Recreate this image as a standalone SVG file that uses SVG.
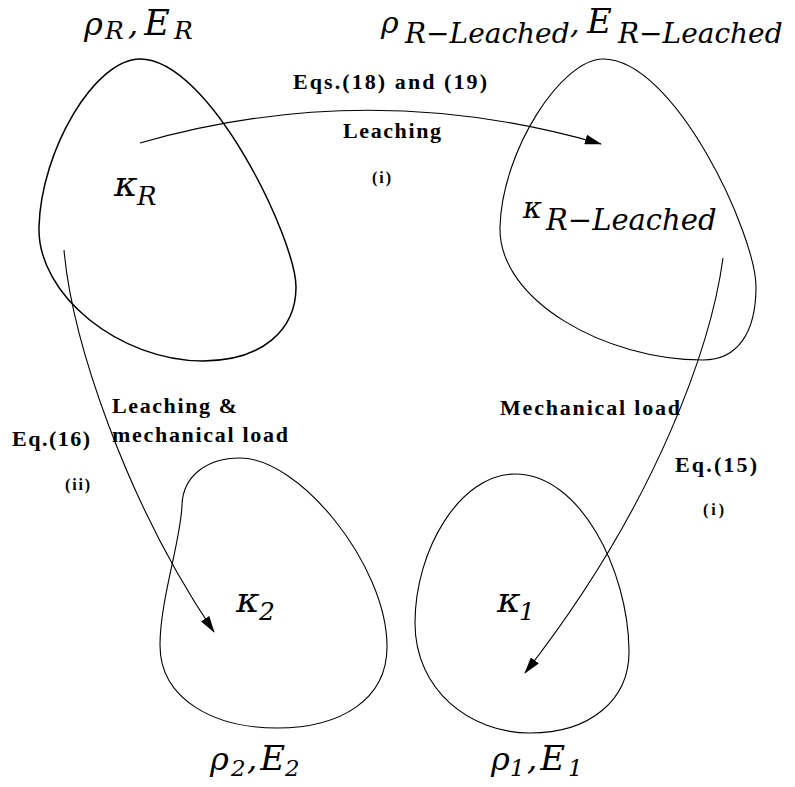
<svg xmlns="http://www.w3.org/2000/svg" width="795" height="787" viewBox="0 0 795 787">
<defs>
<marker id="ah" viewBox="0 0 17 10" refX="16" refY="5" markerWidth="17" markerHeight="10" markerUnits="userSpaceOnUse" orient="auto"><path d="M0,0 L17,5 L0,10 Z" fill="#000"/></marker>
</defs>
<style>
.blob{fill:none;stroke:#000;stroke-width:1.1}
.thick{stroke-width:1.5}
.conn{fill:none;stroke:#000;stroke-width:1.1}
.math{font-family:"DejaVu Serif",serif;font-style:italic;fill:#000}
.lbl{font-family:"Liberation Serif",serif;font-weight:bold;font-size:22px;fill:#000}
.sm{font-size:16px}
</style>
<rect width="795" height="787" fill="#fff"/>
<g id="node-R">
<path class="blob thick" d="M140,59 C95,59 41,150 39,227 C37,295 120,361 203,361 C262,361 296,330 296,287 C296,240 210,59 140,59 Z"/>
<text class="math" font-size="32" y="35"><tspan x="84">ρ</tspan><tspan x="105" y="39" font-size="25">R</tspan><tspan x="128" y="35" word-spacing="-4">, </tspan><tspan font-size="35">E</tspan><tspan x="174" y="39" font-size="25">R</tspan></text>
<text class="math" font-size="36" y="196"><tspan x="114">κ</tspan><tspan x="137" y="205" font-size="26">R</tspan></text>
</g>
<g id="node-RL">
<path class="blob" d="M603,59 C562,59 502,150 500,227 C498,300 605,360 703,360 C738,360 756,332 756,287 C756,235 675,59 603,59 Z"/>
<text class="math" font-size="30" y="33"><tspan x="381">ρ</tspan><tspan x="405" y="43" font-size="28">R−Leached</tspan><tspan x="570" y="33" word-spacing="-2">, </tspan><tspan font-size="34">E</tspan><tspan x="618" y="43" font-size="28">R−Leached</tspan></text>
<text class="math" font-size="29" y="218"><tspan x="523">κ</tspan><tspan x="546" y="230" font-size="29">R−Leached</tspan></text>
</g>
<g id="node-2">
<path class="blob" d="M240,458 C208,458 183,475 182,505 C181,540 160,600 160,645 C160,700 215,728 277,728 C340,728 388,700 387,645 C386,565 300,458 240,458 Z"/>
<text class="math" font-size="36" y="612"><tspan x="236">κ</tspan><tspan x="259" y="620" font-size="25">2</tspan></text>
<text class="math" font-size="32" y="770"><tspan x="210">ρ</tspan><tspan x="231" y="776" font-size="23">2</tspan><tspan x="247" y="770" word-spacing="-7">, </tspan><tspan font-size="34">E</tspan><tspan x="285" y="776" font-size="23">2</tspan></text>
</g>
<g id="node-1">
<path class="blob" d="M515,474 C460,474 415,550 415,623 C415,690 470,733 530,733 C590,733 630,700 629,650 C628,570 580,474 515,474 Z"/>
<text class="math" font-size="36" y="612"><tspan x="497">κ</tspan><tspan x="519" y="620" font-size="25">1</tspan></text>
<text class="math" font-size="32" y="770"><tspan x="491">ρ</tspan><tspan x="510" y="776" font-size="23">1</tspan><tspan x="527" y="770" word-spacing="-7">, </tspan><tspan font-size="34">E</tspan><tspan x="568" y="776" font-size="23">1</tspan></text>
</g>
<g id="connectors">
<path class="conn" d="M140,143 Q370,77 601,144" marker-end="url(#ah)"/>
<path class="conn" d="M64,250 C72,340 125,500 214,632" marker-end="url(#ah)"/>
<path class="conn" d="M723,258 C712,340 660,500 525,673" marker-end="url(#ah)"/>
</g>
<g id="labels">
<text class="lbl" x="293" y="89" textLength="194" lengthAdjust="spacing">Eqs.(18) and (19)</text>
<text class="lbl" x="343" y="138" textLength="98" lengthAdjust="spacing">Leaching</text>
<text class="lbl sm" x="372" y="183" textLength="19" lengthAdjust="spacing">(i)</text>
<text class="lbl" x="112" y="413" textLength="125" lengthAdjust="spacing">Leaching &amp;</text>
<text class="lbl" x="112" y="442" textLength="176" lengthAdjust="spacing">mechanical load</text>
<text class="lbl" x="12" y="446" textLength="78" lengthAdjust="spacing">Eq.(16)</text>
<text class="lbl sm" x="65" y="490" textLength="25" lengthAdjust="spacing">(ii)</text>
<text class="lbl" x="500" y="415" textLength="180" lengthAdjust="spacing">Mechanical load</text>
<text class="lbl" x="675" y="472" textLength="82" lengthAdjust="spacing">Eq.(15)</text>
<text class="lbl sm" x="703" y="515" textLength="21" lengthAdjust="spacing">(i)</text>
</g>
</svg>
